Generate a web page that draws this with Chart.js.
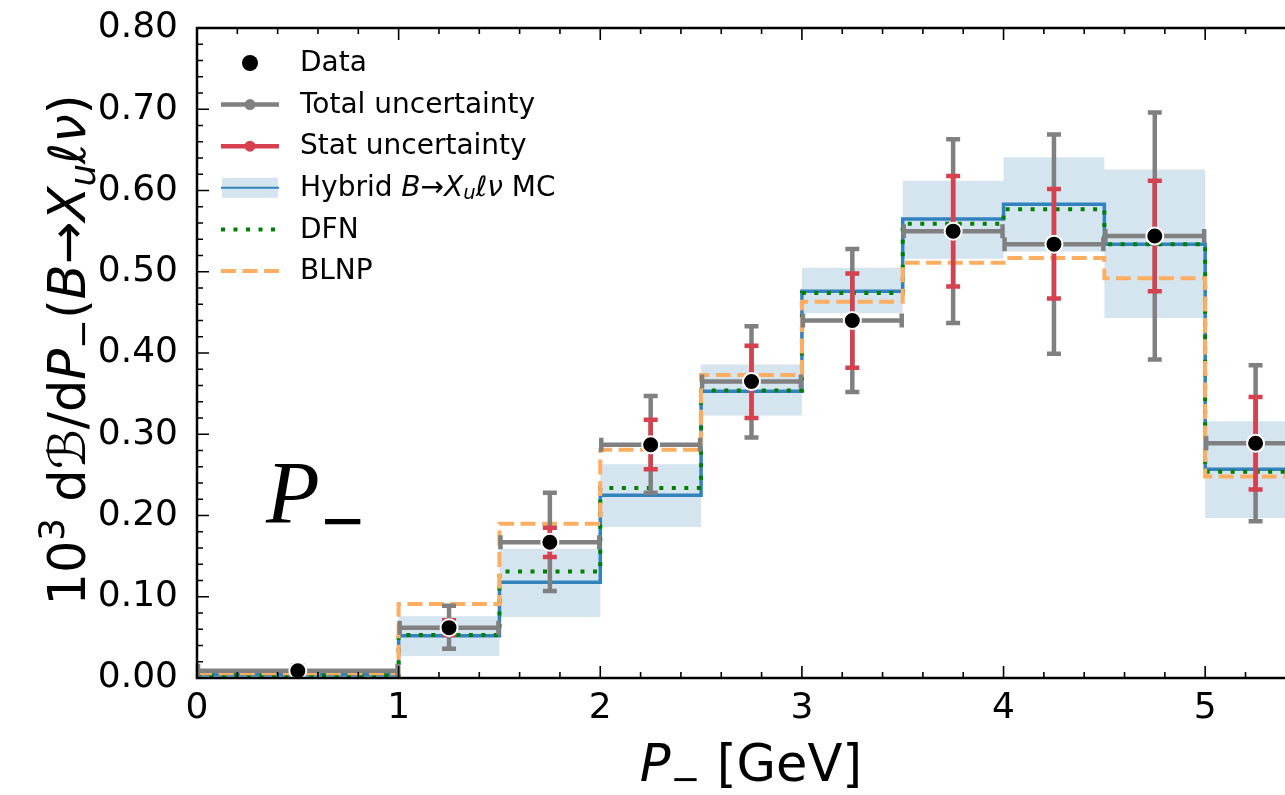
<!DOCTYPE html>
<html>
<head>
<meta charset="utf-8">
<script src="https://cdn.jsdelivr.net/npm/chart.js@4.4.1/dist/chart.umd.min.js"></script>
<style>
  html, body { margin: 0; padding: 0; background: #fff; overflow: hidden; }
  #wrap { width: 1330px; height: 795px; }
</style>
</head>
<body>
<div id="wrap"><canvas id="chartPminus" width="1330" height="795"></canvas></div>
<script>
// bin edges in GeV
const binEdges = [0, 1, 1.5, 2, 2.5, 3, 3.5, 4, 4.5, 5, 5.5];
const dataValues = [0.009, 0.062, 0.167, 0.287, 0.365, 0.440, 0.550, 0.534, 0.544, 0.289];
const totalHigh  = [0.015, 0.089, 0.228, 0.347, 0.433, 0.528, 0.663, 0.669, 0.696, 0.385];
const totalLow   = [0.003, 0.036, 0.107, 0.228, 0.296, 0.352, 0.437, 0.399, 0.392, 0.193];
const statHigh   = [0.012, 0.071, 0.185, 0.318, 0.409, 0.498, 0.618, 0.602, 0.612, 0.346];
const statLow    = [0.006, 0.053, 0.149, 0.257, 0.320, 0.382, 0.482, 0.467, 0.476, 0.232];
// predictions
const mcValues   = [0.004, 0.052, 0.118, 0.225, 0.353, 0.476, 0.565, 0.583, 0.534, 0.257];
const mcHigh     = [0.008, 0.076, 0.159, 0.263, 0.386, 0.505, 0.612, 0.641, 0.626, 0.316];
const mcLow      = [0.001, 0.027, 0.075, 0.186, 0.323, 0.449, 0.516, 0.525, 0.443, 0.197];
const dfnValues  = [0.003, 0.053, 0.131, 0.234, 0.354, 0.474, 0.559, 0.577, 0.534, 0.254];
const blnpValues = [0.006, 0.091, 0.190, 0.281, 0.373, 0.463, 0.511, 0.517, 0.492, 0.248];

const xTicks = [0, 1, 2, 3, 4, 5];
const yTickLabels = ["0.00", "0.10", "0.20", "0.30", "0.40", "0.50", "0.60", "0.70", "0.80"];

const GREY = "#808080", RED = "#d6404f", BLUE = "#3182bd", BAND = "#d5e5f0";
const GREEN = "#008000", ORANGE = "#fdae61";
const FONT = '"DejaVu Sans"';

function stepPoints(vals) {
  return binEdges.map((x, i) => ({ x: x, y: vals[Math.min(i, vals.length - 1)] }));
}
function centers() {
  return dataValues.map((v, i) => ({ x: (binEdges[i] + binEdges[i + 1]) / 2, y: v }));
}

// draw text made of pieces: [text, kind] kind = n, i, sub, isub, sup
function rich(ctx, parts, size, x0, y0, draw) {
  var x = x0;
  parts.forEach(function (p) {
    var kind = p[1];
    var small = kind == "sub" || kind == "isub" || kind == "sup";
    var s = small ? size * 0.7 : size;
    var ital = kind == "i" || kind == "isub";
    ctx.font = (ital ? "italic " : "") + s + "px " + FONT;
    var dy = (kind == "sub" || kind == "isub") ? size * 0.2 : (kind == "sup" ? -size * 0.42 : 0);
    if (draw) ctx.fillText(p[0], x, y0 + dy);
    x += ctx.measureText(p[0]).width;
  });
  return x - x0;
}

const yTitle = [["10", "n"], ["3", "sup"], [" d", "n"], ["\u212C", "i"], ["/d", "n"], ["P", "i"], ["\u2212", "sub"],
  ["(", "n"], ["B", "i"], ["\u2192", "n"], ["X", "i"], ["u", "isub"], ["\u2113\u03BD", "i"], [")", "n"]];
const xTitle = [["P", "i"], ["\u2212", "sub"], [" [GeV]", "n"]];

const legendRows = [
  { kind: "data", label: [["Data", "n"]] },
  { kind: "total", label: [["Total uncertainty", "n"]] },
  { kind: "stat", label: [["Stat uncertainty", "n"]] },
  { kind: "mc", label: [["Hybrid ", "n"], ["B", "i"], ["\u2192", "n"], ["X", "i"], ["u", "isub"], ["\u2113\u03BD", "i"], [" MC", "n"]] },
  { kind: "dfn", label: [["DFN", "n"]] },
  { kind: "blnp", label: [["BLNP", "n"]] }
];

function vbar(ctx, x, y1, y2, color, lw, cap) {
  ctx.strokeStyle = color; ctx.lineWidth = lw; ctx.lineCap = "butt";
  ctx.beginPath(); ctx.moveTo(x, y1); ctx.lineTo(x, y2); ctx.stroke();
  ctx.beginPath();
  ctx.moveTo(x - cap, y1); ctx.lineTo(x + cap, y1);
  ctx.moveTo(x - cap, y2); ctx.lineTo(x + cap, y2);
  ctx.stroke();
}

const decor = {
  id: "decor",
  beforeDatasetDraw(chart, args) {
    if (args.index !== 0) return;
    const ctx = chart.ctx, xs = chart.scales.x, ys = chart.scales.y;
    ctx.save();
    dataValues.forEach(function (v, i) {
      var xa = xs.getPixelForValue(binEdges[i]), xb = xs.getPixelForValue(binEdges[i + 1]);
      var xc = xs.getPixelForValue((binEdges[i] + binEdges[i + 1]) / 2);
      var yc = ys.getPixelForValue(v);
      // horizontal bin width bar
      ctx.strokeStyle = GREY; ctx.lineWidth = 4.5;
      ctx.beginPath(); ctx.moveTo(xa, yc); ctx.lineTo(xb, yc); ctx.stroke();
      ctx.beginPath(); ctx.moveTo(xa + 1, yc - 7); ctx.lineTo(xa + 1, yc + 7);
      ctx.moveTo(xb - 1, yc - 7); ctx.lineTo(xb - 1, yc + 7); ctx.stroke();
      vbar(ctx, xc, ys.getPixelForValue(totalLow[i]), ys.getPixelForValue(totalHigh[i]), GREY, 4.5, 7);
      vbar(ctx, xc, ys.getPixelForValue(statLow[i]), ys.getPixelForValue(statHigh[i]), RED, 4.5, 7);
    });
    ctx.restore();
  },
  afterDraw(chart) {
    const ctx = chart.ctx, a = chart.chartArea, xs = chart.scales.x, ys = chart.scales.y;
    ctx.save();
    // frame
    ctx.strokeStyle = "#000"; ctx.lineWidth = 2.5;
    ctx.strokeRect(a.left, a.top, a.right - a.left, a.bottom - a.top);
    // inward ticks
    ctx.lineWidth = 1.6;
    ctx.beginPath();
    for (var k = 0; k <= 27; k++) {
      var xv = k * 0.2, px = xs.getPixelForValue(xv);
      var len = (k % 5 == 0) ? 12 : 6;
      ctx.moveTo(px, a.bottom); ctx.lineTo(px, a.bottom - len);
      ctx.moveTo(px, a.top); ctx.lineTo(px, a.top + len);
    }
    for (var j = 0; j <= 40; j++) {
      var py = ys.getPixelForValue(j * 0.02);
      var l2 = (j % 5 == 0) ? 12 : 6;
      ctx.moveTo(a.left, py); ctx.lineTo(a.left + l2, py);
      ctx.moveTo(a.right, py); ctx.lineTo(a.right - l2, py);
    }
    ctx.stroke();

    // tick labels
    ctx.fillStyle = "#000"; ctx.font = "36px " + FONT; ctx.textBaseline = "middle";
    ctx.textAlign = "right";
    yTickLabels.forEach(function (t) {
      ctx.fillText(t, a.left - 19, ys.getPixelForValue(parseFloat(t)));
    });
    ctx.textAlign = "center";
    xTicks.forEach(function (v) {
      ctx.fillText(String(v), xs.getPixelForValue(v), a.bottom + 31);
    });

    // axis titles
    ctx.textBaseline = "alphabetic"; ctx.textAlign = "left";
    var wx = rich(ctx, xTitle, 51, 0, 0, false);
    rich(ctx, xTitle, 51, 751 - wx / 2, 781, true);
    ctx.save();
    ctx.translate(85, 350); ctx.rotate(-Math.PI / 2);
    var wy = rich(ctx, yTitle, 51, 0, 0, false);
    rich(ctx, yTitle, 51, -wy / 2, 0, true);
    ctx.restore();

    // big P_- label
    ctx.font = 'italic 88px "Liberation Serif"';
    ctx.fillText("P", 266, 522);
    ctx.font = 'bold 76px "Liberation Serif"';
    ctx.fillText("\u2212", 321, 547);

    // legend
    legendRows.forEach(function (r, i) {
      var y = 63 + i * 41.6, x1 = 221, x2 = 279, xm = 250;
      ctx.setLineDash([]); ctx.lineCap = "butt";
      if (r.kind == "data") {
        ctx.fillStyle = "#000"; ctx.beginPath(); ctx.arc(xm, y, 8, 0, Math.PI * 2); ctx.fill();
      } else if (r.kind == "total" || r.kind == "stat") {
        var c = r.kind == "total" ? GREY : RED;
        ctx.strokeStyle = c; ctx.lineWidth = 4.5;
        ctx.beginPath(); ctx.moveTo(x1, y); ctx.lineTo(x2, y); ctx.stroke();
        ctx.fillStyle = c; ctx.beginPath(); ctx.arc(xm, y, 5.5, 0, Math.PI * 2); ctx.fill();
      } else if (r.kind == "mc") {
        ctx.fillStyle = BAND; ctx.fillRect(x1 + 1, y - 10, x2 - x1 - 2, 20);
        ctx.strokeStyle = BLUE; ctx.lineWidth = 2;
        ctx.beginPath(); ctx.moveTo(x1, y); ctx.lineTo(x2, y); ctx.stroke();
      } else if (r.kind == "dfn") {
        ctx.strokeStyle = GREEN; ctx.lineWidth = 4; ctx.setLineDash([4, 8.5]);
        ctx.beginPath(); ctx.moveTo(x1, y); ctx.lineTo(x2 + 2, y); ctx.stroke();
      } else {
        ctx.strokeStyle = ORANGE; ctx.lineWidth = 4; ctx.setLineDash([15, 6.5]);
        ctx.beginPath(); ctx.moveTo(x1, y); ctx.lineTo(x2, y); ctx.stroke();
      }
      ctx.setLineDash([]);
      ctx.fillStyle = "#000"; ctx.textBaseline = "middle";
      rich(ctx, r.label, 28, 300, y + 1, true);
    });
    ctx.restore();
  }
};

const lineBase = { pointRadius: 0, tension: 0, stepped: "before", fill: false };

new Chart(document.getElementById("chartPminus").getContext("2d"), {
  type: "line",
  data: {
    datasets: [
      { label: "Data", data: centers(), showLine: false, pointRadius: 8.5, pointHoverRadius: 8.5,
        pointBackgroundColor: "#000", pointBorderColor: "#fff", pointBorderWidth: 2, order: 0 },
      Object.assign({ label: "BLNP", data: stepPoints(blnpValues), borderColor: ORANGE, borderWidth: 4,
        borderDash: [15, 6.5], order: 1 }, lineBase),
      Object.assign({ label: "DFN", data: stepPoints(dfnValues), borderColor: GREEN, borderWidth: 4,
        borderDash: [4, 8.5], order: 2 }, lineBase),
      Object.assign({ label: "Hybrid MC", data: stepPoints(mcValues), borderColor: BLUE, borderWidth: 3.5, order: 3 }, lineBase),
      { label: "MC up", data: stepPoints(mcHigh), pointRadius: 0, stepped: "before", borderWidth: 0,
        borderColor: "rgba(0,0,0,0)", backgroundColor: BAND, fill: "+1", order: 4 },
      { label: "MC down", data: stepPoints(mcLow), pointRadius: 0, stepped: "before", borderWidth: 0,
        borderColor: "rgba(0,0,0,0)", fill: false, order: 5 }
    ]
  },
  options: {
    responsive: false,
    animation: false,
    devicePixelRatio: 1,
    layout: { padding: { left: 197, right: 24, top: 28, bottom: 117 } },
    plugins: { legend: { display: false }, tooltip: { enabled: false } },
    scales: {
      x: { type: "linear", min: 0, max: 5.5, display: false },
      y: { min: 0, max: 0.8, display: false }
    }
  },
  plugins: [decor]
});
</script>
</body>
</html>
